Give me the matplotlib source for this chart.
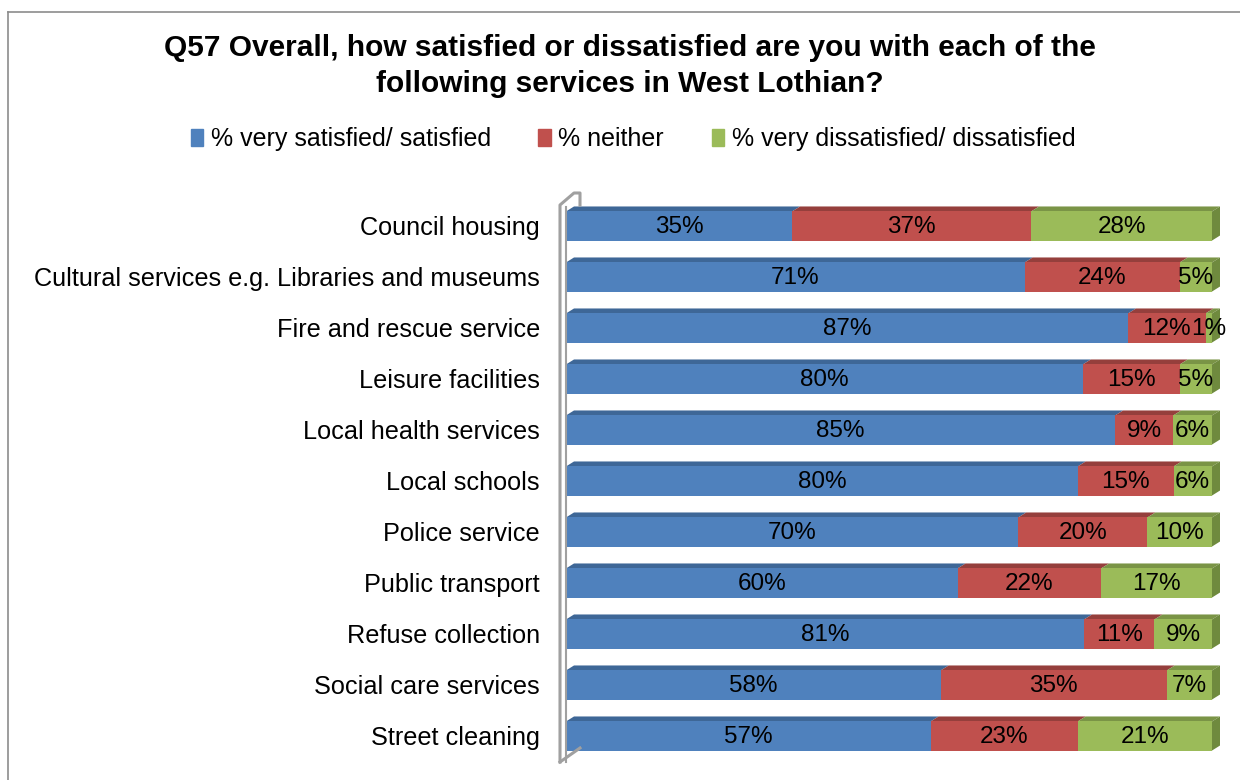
import numpy as np
import matplotlib
matplotlib.use("Agg")
import matplotlib.pyplot as plt
from matplotlib.patches import Polygon
from matplotlib.lines import Line2D

plt.rcParams['font.family'] = ['Liberation Sans', 'DejaVu Sans']

categories = ['Council housing', 'Cultural services e.g. Libraries and museums',
              'Fire and rescue service', 'Leisure facilities', 'Local health services',
              'Local schools', 'Police service', 'Public transport', 'Refuse collection',
              'Social care services', 'Street cleaning']
satisfied = [35, 71, 87, 80, 85, 80, 70, 60, 81, 58, 57]
neither = [37, 24, 12, 15, 9, 15, 20, 22, 11, 35, 23]
dissatisfied = [28, 5, 1, 5, 6, 6, 10, 17, 9, 7, 21]
series_names = ['% very satisfied/ satisfied', '% neither', '% very dissatisfied/ dissatisfied']

front_cols = ['#4F81BD', '#C0504D', '#9BBB59']
top_cols = ['#3E6797', '#953F3C', '#7A9446']
side_cols = ['#3A5F8C', '#8A3A38', '#6F8A3E']

W, H = 1240, 780
fig = plt.figure(figsize=(W / 100, H / 100), dpi=100)

# outer chart border (only top and left visible in crop)
fig.add_artist(Line2D([8 / W, 8 / W], [0, 1 - 12 / H], color='#8c8c8c', lw=1.2))
fig.add_artist(Line2D([8 / W, 1], [1 - 12 / H, 1 - 12 / H], color='#8c8c8c', lw=1.2))

# plot area in pixels
x0, x1 = 566, 1212
y_top, y_bot = 200.5, 761.5
ax = fig.add_axes([x0 / W, 1 - y_bot / H, (x1 - x0) / W, (y_bot - y_top) / H])
n = len(categories)
ax.set_xlim(0, 1)
ax.set_ylim(n - 0.5, -0.5)
ax.axis('off')

data = np.array([satisfied, neither, dissatisfied], dtype=float)
fracs = data / data.sum(axis=0)

bh = 0.57
dx = 8 / (x1 - x0)
dy = 5 / ((y_bot - y_top) / n)

for i in range(n):
    left = 0.0
    for s in range(3):
        w = fracs[s, i]
        top = i - bh / 2
        ax.barh(i, w, left=left, height=bh, color=front_cols[s], edgecolor='none', zorder=2)
        # top face
        ax.add_patch(Polygon([(left, top), (left + w, top), (left + w + dx, top - dy),
                              (left + dx, top - dy)], closed=True,
                             facecolor=top_cols[s], edgecolor='none', zorder=1,
                             clip_on=False))
        ax.text(left + w / 2, i + 0.02, f'{int(data[s, i])}%', ha='center', va='center',
                fontsize=17.5, color='black', zorder=5, clip_on=False)
        left += w
    # right side face
    ax.add_patch(Polygon([(left, i - bh / 2), (left + dx, i - bh / 2 - dy),
                          (left + dx, i + bh / 2 - dy), (left, i + bh / 2)], closed=True,
                         facecolor=side_cols[2], edgecolor='none', zorder=3, clip_on=False))

# category labels
for i, c in enumerate(categories):
    ax.text(-26 / (x1 - x0), i + 0.04, c, ha='right', va='center', fontsize=18.2,
            transform=ax.transData, clip_on=False)

# 3D back wall outline
def px(x, y):
    return (x / W, 1 - y / H)

wall_col = '#a0a0a0'
pts = [px(560, 762), px(560, 205), px(574, 193), px(580, 193), px(580, 205)]
fig.add_artist(Line2D([p[0] for p in pts], [p[1] for p in pts], color=wall_col, lw=2.2))
pts = [px(566, 207), px(566, 762)]
fig.add_artist(Line2D([p[0] for p in pts], [p[1] for p in pts], color=wall_col, lw=1.5))
pts = [px(560, 762), px(580, 748)]
fig.add_artist(Line2D([p[0] for p in pts], [p[1] for p in pts], color=wall_col, lw=2.2))

# title
fig.text(630 / W, 1 - 66 / H,
         'Q57 Overall, how satisfied or dissatisfied are you with each of the\nfollowing services in West Lothian?',
         ha='center', va='center', fontsize=21.5, fontweight='bold', linespacing=1.35)

# legend
handles = [plt.Rectangle((0, 0), 1, 1, color=c) for c in front_cols]
fig.legend(handles, series_names, loc='center', bbox_to_anchor=(633 / W, 1 - 139 / H),
           ncol=3, frameon=False, fontsize=18, handlelength=0.5, handleheight=0.7,
           handletextpad=0.3, columnspacing=1.9)

fig.savefig('out.png', dpi=100)
